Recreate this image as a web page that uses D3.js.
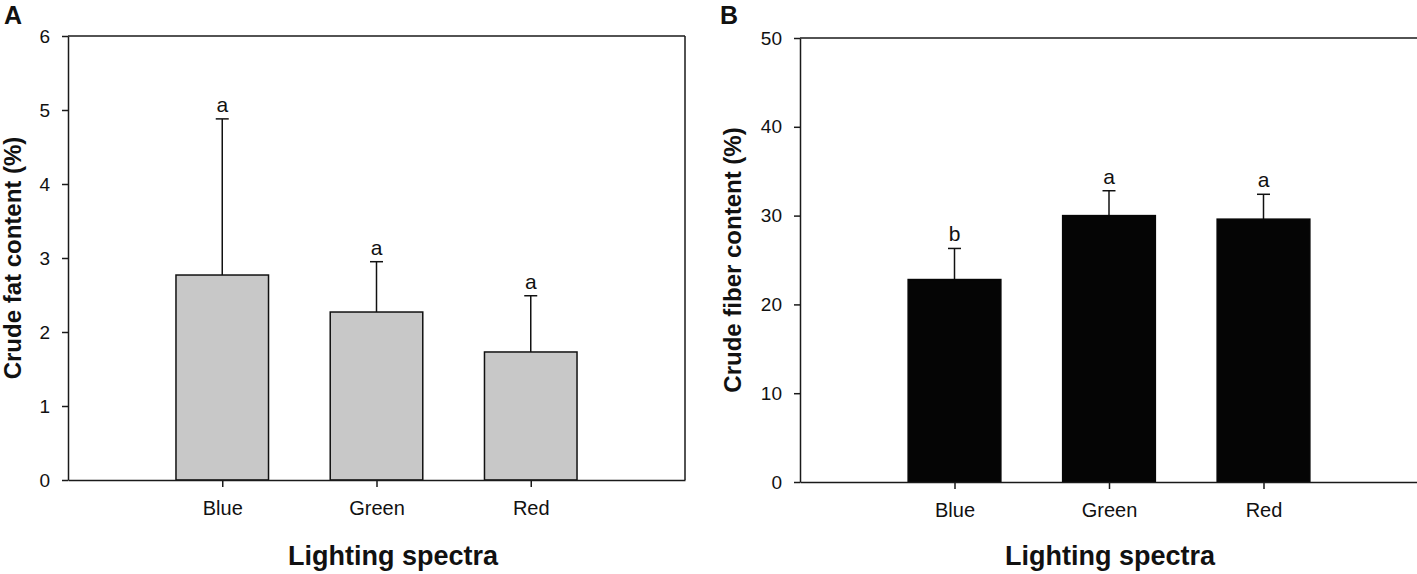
<!DOCTYPE html>
<html>
<head>
<meta charset="utf-8">
<script src="https://cdn.jsdelivr.net/npm/d3@7"></script>
<style>
  body { margin: 0; background: #fff; }
  svg { display: block; font-family: "Liberation Sans", Arial, sans-serif; }
  .axis path, .axis line { stroke: #1a1a1a; stroke-width: 1.5; }
  .axis text { fill: #111; }
</style>
</head>
<body>
<div id="chart"></div>
<script>
const categories = ['Blue', 'Green', 'Red'];

// panel A: crude fat
const fatMean = [2.77, 2.27, 1.73];
const fatErr = [2.11, 0.68, 0.76];
const fatLetters = ['a', 'a', 'a'];
const fatTicks = [0, 1, 2, 3, 4, 5, 6];

// panel B: crude fiber
const fiberMean = [22.8, 30.0, 29.6];
const fiberErr = [3.5, 2.8, 2.8];
const fiberLetters = ['b', 'a', 'a'];
const fiberTicks = [0, 10, 20, 30, 40, 50];

const width = 1417;
const height = 574;

const svg = d3
  .select('#chart')
  .append('svg')
  .attr('width', width)
  .attr('height', height);

function drawPanel(opts) {
  const rows = categories.map((c, i) => ({
    name: c,
    pos: i + 1,
    mean: opts.mean[i],
    err: opts.err[i],
    letter: opts.letters[i],
  }));

  const x = d3.scaleLinear().domain([0, 4]).range([opts.left, opts.right]);
  const y = d3.scaleLinear().domain([0, d3.max(opts.ticks)]).range([opts.bottom, opts.top]);
  const g = svg.append('g');

  // frame lines on top and right
  g.append('line')
    .attr('x1', x(0)).attr('x2', x(4))
    .attr('y1', y.range()[1]).attr('y2', y.range()[1])
    .attr('stroke', '#1a1a1a').attr('stroke-width', 1.5);
  g.append('line')
    .attr('x1', x(4)).attr('x2', x(4))
    .attr('y1', y.range()[1]).attr('y2', y.range()[0])
    .attr('stroke', '#1a1a1a').attr('stroke-width', 1.5);

  const barW = x(0.6) - x(0);

  // error bars (upper only)
  const eb = g.append('g');
  eb.selectAll('line.stem')
    .data(rows)
    .join('line')
    .attr('class', 'stem')
    .attr('x1', (d) => x(d.pos)).attr('x2', (d) => x(d.pos))
    .attr('y1', (d) => y(d.mean)).attr('y2', (d) => y(d.mean + d.err))
    .attr('stroke', '#111').attr('stroke-width', 1.5);
  eb.selectAll('line.cap')
    .data(rows)
    .join('line')
    .attr('class', 'cap')
    .attr('x1', (d) => x(d.pos) - 6.5).attr('x2', (d) => x(d.pos) + 6.5)
    .attr('y1', (d) => y(d.mean + d.err)).attr('y2', (d) => y(d.mean + d.err))
    .attr('stroke', '#111').attr('stroke-width', 1.5);

  g.append('g')
    .selectAll('rect')
    .data(rows)
    .join('rect')
    .attr('x', (d) => x(d.pos) - barW / 2)
    .attr('y', (d) => y(d.mean))
    .attr('width', barW)
    .attr('height', (d) => y(0) - y(d.mean))
    .attr('fill', opts.fill)
    .attr('stroke', opts.stroke)
    .attr('stroke-width', 1.5);

  // significance letters
  g.append('g')
    .selectAll('text')
    .data(rows)
    .join('text')
    .attr('x', (d) => x(d.pos))
    .attr('y', (d) => y(d.mean + d.err) - 7)
    .attr('text-anchor', 'middle')
    .style('font-size', '21px')
    .attr('fill', '#111')
    .text((d) => d.letter);

  // axes
  g.append('g')
    .attr('class', 'axis')
    .attr('transform', `translate(0, ${y(0)})`)
    .call(
      d3.axisBottom(x)
        .tickValues(rows.map((d) => d.pos))
        .tickFormat((v) => categories[v - 1])
        .tickSize(7)
        .tickPadding(14)
        .tickSizeOuter(0)
    )
    .call((a) => a.selectAll('text').style('font-size', '20px'));

  g.append('g')
    .attr('class', 'axis')
    .attr('transform', `translate(${x(0)}, 0)`)
    .call(
      d3.axisLeft(y)
        .tickValues(opts.ticks)
        .tickFormat(d3.format('d'))
        .tickSize(6)
        .tickPadding(12)
        .tickSizeOuter(0)
    )
    .call((a) => a.selectAll('text').style('font-size', '19px'));

  // axis titles
  g.append('text')
    .attr('transform', `translate(${opts.yTitleX}, ${(opts.top + opts.bottom) / 2}) rotate(-90)`)
    .attr('text-anchor', 'middle')
    .style('font-size', '24px')
    .style('font-weight', 'bold')
    .attr('fill', '#111')
    .text(opts.yTitle);

  g.append('text')
    .attr('x', opts.xTitleX)
    .attr('y', 565)
    .attr('text-anchor', 'middle')
    .style('font-size', '27px')
    .style('font-weight', 'bold')
    .attr('fill', '#111')
    .text('Lighting spectra');

  // panel letter
  g.append('text')
    .attr('x', opts.letterX)
    .attr('y', 24)
    .style('font-size', '25px')
    .style('font-weight', 'bold')
    .attr('fill', '#111')
    .text(opts.panel);
}

drawPanel({
  panel: 'A',
  letterX: 4,
  left: 68,
  right: 685,
  top: 36,
  bottom: 480,
  mean: fatMean,
  err: fatErr,
  letters: fatLetters,
  ticks: fatTicks,
  fill: '#c8c8c8',
  stroke: '#111',
  yTitle: 'Crude fat content (%)',
  yTitleX: 21,
  xTitleX: 393,
});

drawPanel({
  panel: 'B',
  letterX: 720,
  left: 800,
  right: 1418,
  top: 38,
  bottom: 482,
  mean: fiberMean,
  err: fiberErr,
  letters: fiberLetters,
  ticks: fiberTicks,
  fill: '#050505',
  stroke: '#050505',
  yTitle: 'Crude fiber content (%)',
  yTitleX: 741,
  xTitleX: 1110,
});
</script>
</body>
</html>
